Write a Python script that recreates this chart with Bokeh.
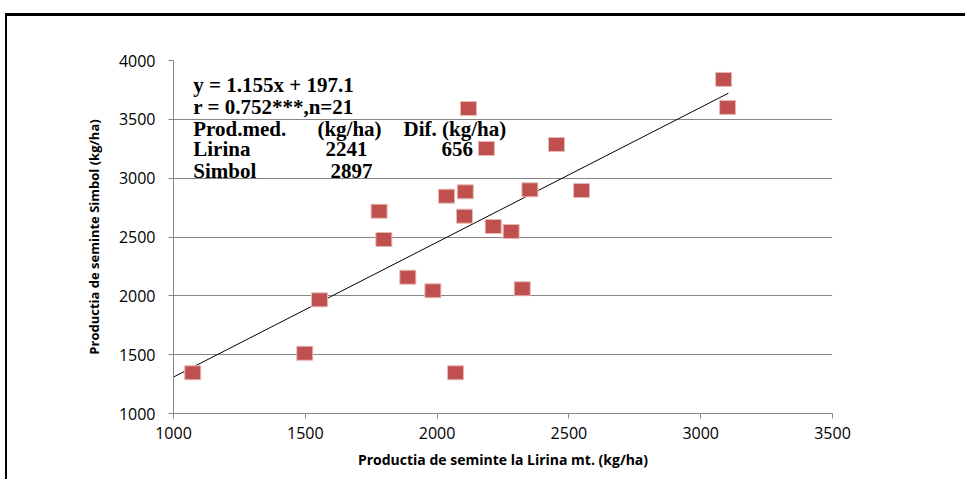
from bokeh.plotting import figure
from bokeh.models import Range1d, Label, FixedTicker
from bokeh.embed import file_html
from bokeh.resources import INLINE

# Data
lirina = [1073, 1498, 1554, 1780, 1798, 1889, 1984, 2036, 2107, 2104, 2070,
          2213, 2281, 2323, 2352, 2548, 2119, 2187, 2453, 3087, 3102]
simbol = [1346, 1512, 1966, 2719, 2479, 2158, 2043, 2847, 2884, 2677, 1346,
          2589, 2547, 2060, 2901, 2895, 3592, 3252, 3286, 3839, 3601]
trend_x = [1000, 3105]
trend_y = [1310, 3722]
x_ticks = [1000, 1500, 2000, 2500, 3000, 3500]
y_ticks = [1000, 1500, 2000, 2500, 3000, 3500, 4000]

p = figure(width=960, height=466, output_backend="svg", toolbar_location=None,
           x_range=Range1d(1000, 3500), y_range=Range1d(1000, 4000),
           min_border_left=166, min_border_top=44, min_border_right=135,
           min_border_bottom=69,
           styles={"border-top": "3px solid black", "border-left": "2px solid black",
                   "margin-top": "13px", "margin-left": "5px"})
p.outline_line_color = None
p.background_fill_color = "white"

grey = "#868686"
p.xgrid.grid_line_color = None
p.ygrid.grid_line_color = grey
p.ygrid.grid_line_width = 1

for ax in (p.xaxis[0], p.yaxis[0]):
    ax.axis_line_color = grey
    ax.major_tick_line_color = grey
    ax.major_tick_out = 5
    ax.major_tick_in = 0
    ax.minor_tick_line_color = None
    ax.major_label_text_font = "Open Sans"
    ax.major_label_text_font_size = "16px"
    ax.major_label_text_color = "black"
    ax.axis_label_text_font = "Open Sans"
    ax.axis_label_text_font_style = "bold"
    ax.axis_label_text_color = "black"

p.xaxis.ticker = FixedTicker(ticks=x_ticks)
p.yaxis.ticker = FixedTicker(ticks=y_ticks)
p.xaxis.major_label_standoff = 8
p.yaxis.major_label_standoff = 13
p.xaxis.axis_label = "Productia de seminte la Lirina mt. (kg/ha)"
p.yaxis.axis_label = "Productia de seminte Simbol (kg/ha)"
p.xaxis.axis_label_text_font_size = "14px"
p.yaxis.axis_label_text_font_size = "13px"
p.xaxis.axis_label_standoff = 8
p.yaxis.axis_label_standoff = 13

p.line(trend_x, trend_y, line_color="black", line_width=1)
p.rect(lirina, simbol, width=16, height=14, width_units="screen",
       height_units="screen", fill_color="#C0504D", line_color="#E6B9B8",
       line_width=1)

# annotation text block
ann_font = "Liberation Serif"
rows = [
    (1075, 3788, "y = 1.155x + 197.1"),
    (1075, 3609, "r = 0.752***,n=21"),
    (1075, 3422, "Prod.med."),
    (1546, 3422, "(kg/ha)"),
    (1873, 3422, "Dif. (kg/ha)"),
    (1075, 3252, "Lirina"),
    (1577, 3252, "2241"),
    (2017, 3252, "656"),
    (1075, 3065, "Simbol"),
    (1596, 3065, "2897"),
]
for x, y, t in rows:
    p.add_layout(Label(x=x, y=y, text=t, text_font=ann_font,
                       text_font_style="bold", text_font_size="21px",
                       text_baseline="middle", text_color="black"))

open("out.html", "w").write(file_html(p, INLINE))
